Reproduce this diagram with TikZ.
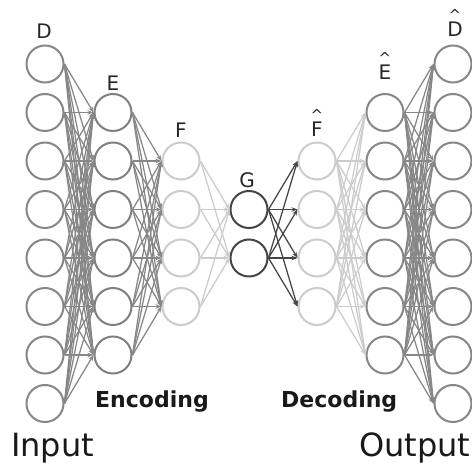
\documentclass[tikz,border=0pt]{standalone}
\usepackage{fontspec}
\setmainfont{DejaVu Sans}
\usetikzlibrary{arrows.meta}
\definecolor{cmid}{gray}{0.53}
\definecolor{clight}{gray}{0.80}
\definecolor{cdark}{gray}{0.27}
\begin{document}
\begin{tikzpicture}[x=1pt,y=-1pt,
  neuron/.style={circle, draw=#1, line width=2pt, minimum size=37pt, inner sep=0pt},
  link/.style={draw=#1, line width=1.25pt, -{Stealth[length=6pt,width=4.5pt]}},
  lbl/.style={font=\fontsize{20}{20}\selectfont, inner sep=0pt, text=black!85},
  hatlbl/.style={font=\fontsize{20}{20}\selectfont, inner sep=0pt, align=center, anchor=south, text=black!85},
  sect/.style={font=\bfseries\fontsize{22}{22}\selectfont, inner sep=0pt, anchor=base west, text=black!90},
  io/.style={font=\fontsize{32}{32}\selectfont, inner sep=0pt, anchor=base west, text=black!90}]
\useasboundingbox[fill=white] (0,0) rectangle (472,463);
% layers
\foreach \i in {1,...,8} \node[neuron=cmid] (d\i) at (45,{64+48.5*(\i-1)}) {};
\foreach \i in {1,...,6} \node[neuron=cmid!95!black] (e\i) at (113,{112.5+48.5*(\i-1)}) {};
\foreach \i in {1,...,4} \node[neuron=clight] (f\i) at (181,{161+48.5*(\i-1)}) {};
\foreach \i in {1,2} \node[neuron=cdark] (g\i) at (249,{209.5+48.5*(\i-1)}) {};
\foreach \i in {1,...,4} \node[neuron=clight] (fh\i) at (317,{161+48.5*(\i-1)}) {};
\foreach \i in {1,...,6} \node[neuron=cmid] (eh\i) at (385,{112.5+48.5*(\i-1)}) {};
\foreach \i in {1,...,8} \node[neuron=cmid] (dh\i) at (453,{64+48.5*(\i-1)}) {};
% connections
\foreach \i in {1,...,8} \foreach \j in {1,...,6} \draw[link=cmid] (d\i.east) -- (e\j.west);
\foreach \i in {1,...,6} \foreach \j in {1,...,4} \draw[link=cmid] (e\i.east) -- (f\j.west);
\foreach \i in {1,...,4} \foreach \j in {1,2} \draw[link=clight] (f\i.east) -- (g\j.west);
\foreach \i in {1,2} \foreach \j in {1,...,4} \draw[link=cdark] (g\i.east) -- (fh\j.west);
\foreach \i in {1,...,4} \foreach \j in {1,...,6} \draw[link=clight] (fh\i.east) -- (eh\j.west);
\foreach \i in {1,...,6} \foreach \j in {1,...,8} \draw[link=cmid] (eh\i.east) -- (dh\j.west);
% labels
\node[lbl, anchor=base] (lD) at (44,38) {D};
\node[lbl, anchor=base] (lE) at (113,90) {E};
\node[lbl, anchor=base] (lF) at (181,137) {F};
\node[lbl, anchor=base] (lG) at (247,187) {G};
\node[hatlbl] (lFh) at (317,137) {{\fontsize{15}{15}\selectfont\^{}}\\[-4pt]F};
\node[hatlbl] (lEh) at (385,80) {{\fontsize{15}{15}\selectfont\^{}}\\[-4pt]E};
\node[hatlbl] (lDh) at (455,37) {{\fontsize{15}{15}\selectfont\^{}}\\[-4pt]D};
\node[sect] (enc) at (95,407) {Encoding};
\node[sect] (dec) at (281,407) {Decoding};
\node[io] (inp) at (11,456) {Input};
\node[io] (outp) at (359,456) {Output};
\end{tikzpicture}
\end{document}
